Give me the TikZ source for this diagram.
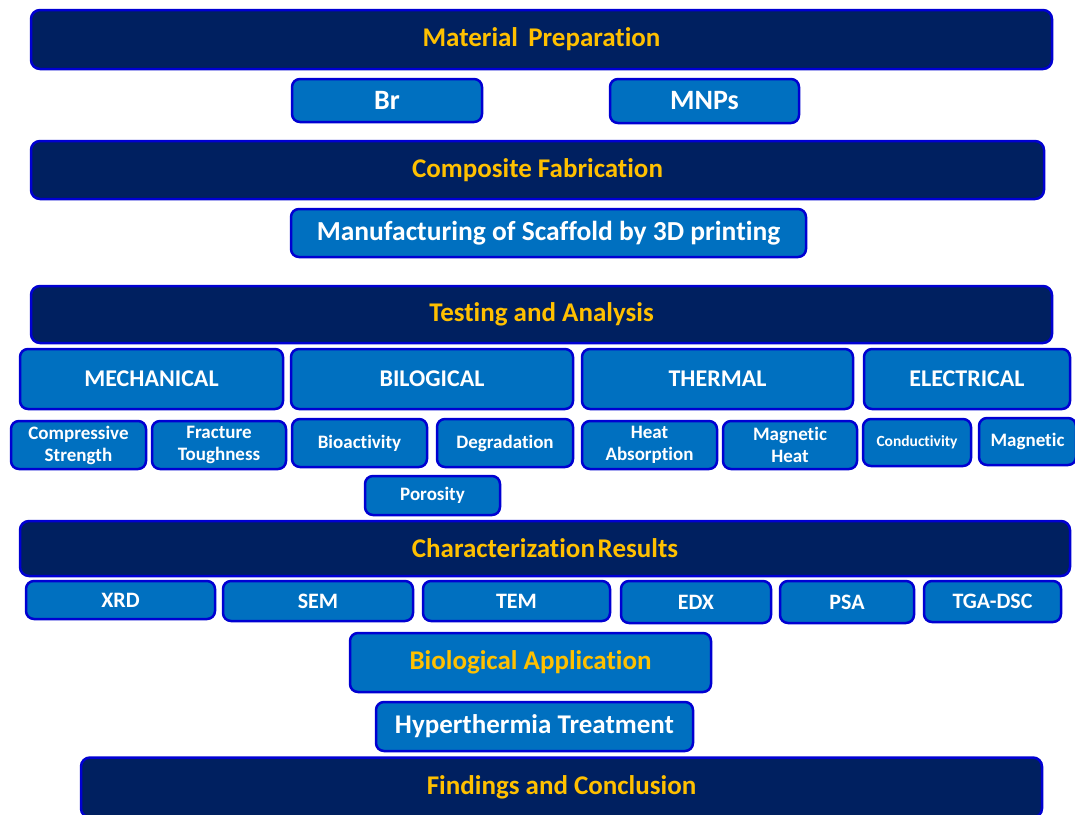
\documentclass[tikz,border=0pt]{standalone}
\usepackage{fontspec}
\setmainfont{Carlito}[Ligatures=NoCommon]
\definecolor{N1}{RGB}{0,32,96}
\definecolor{B1}{RGB}{0,112,192}
\definecolor{E1}{RGB}{0,0,210}
\definecolor{G1}{RGB}{255,192,0}
\tikzstyle{stage}=[draw=E1, line width=2.5pt, fill=N1, rounded corners=9pt, text=G1, inner sep=0, font=\bfseries\fontsize{27}{29}\selectfont]
\tikzstyle{item}=[draw=E1, line width=2.5pt, fill=B1, rounded corners=8pt, text=white, inner sep=0, align=center, font=\bfseries\fontsize{24}{26}\selectfont]
\tikzstyle{sub}=[item, font=\bfseries\fontsize{19}{22}\selectfont]
\tikzstyle{tool}=[item, font=\bfseries\fontsize{22}{24}\selectfont]

\begin{document}
\begin{tikzpicture}[x=1pt,y=-1pt]
    \useasboundingbox (0,0) rectangle (1075,814);
    % material preparation
    \node[stage, minimum width=1021, minimum height=59] (mat) at (541.5,39.5) {Material\hspace{0.15em} Preparation};
    \node[item, minimum width=190, minimum height=43, font=\bfseries\fontsize{28}{30}\selectfont] (br) at (387,100.5) {Br};
    \node[item, minimum width=189, minimum height=44, font=\bfseries\fontsize{28}{30}\selectfont] (mnp) at (704.5,101) {MNPs};
    % fabrication
    \node[stage, minimum width=1013, minimum height=58] (comp) at (537.5,170) {Composite Fabrication};
    \node[item, minimum width=515, minimum height=48, font=\bfseries\fontsize{27.5}{29}\selectfont] (manu) at (548.5,233) {Manufacturing of Scaffold by 3D printing};
    % tests
    \node[stage, minimum width=1021, minimum height=57] (test) at (541.5,314.5) {Testing and Analysis};
    \node[item, minimum width=263, minimum height=60] (mech) at (151.5,379) {MECHANICAL};
    \node[item, minimum width=282, minimum height=60] (bio) at (432,379) {BILOGICAL};
    \node[item, minimum width=271, minimum height=60] (ther) at (717.5,379) {THERMAL};
    \node[item, minimum width=206, minimum height=60] (elec) at (967,379) {ELECTRICAL};
    \node[sub, minimum width=135, minimum height=48] (cs) at (78.5,445) {Compressive\\Strength};
    \node[sub, minimum width=134, minimum height=48] (ft) at (219,445) {Fracture\\Toughness};
    \node[sub, minimum width=135, minimum height=48] (bioa) at (359.5,443) {Bioactivity};
    \node[sub, minimum width=136, minimum height=48] (deg) at (505,443) {Degradation};
    \node[sub, minimum width=135, minimum height=48] (heat) at (649.5,445) {Heat\\Absorption};
    \node[sub, minimum width=134, minimum height=48] (mh) at (790,445) {Magnetic\\Heat};
    \node[sub, minimum width=108, minimum height=47, font=\bfseries\fontsize{15.5}{17}\selectfont] (cond) at (917,442.5) {Conductivity};
    \node[sub, minimum width=97, minimum height=47] (mag) at (1027.5,441.5) {Magnetic};
    \node[sub, minimum width=135, minimum height=39] (por) at (432.5,495.5) {Porosity};
    % characterization
    \node[stage, minimum width=1050, minimum height=55] (char) at (545,548.5) {Characterization\hspace{0.1em}Results};
    \node[tool, minimum width=189, minimum height=38] (xrd) at (120.5,600) {XRD};
    \node[tool, minimum width=190, minimum height=40] (sem) at (318,601) {SEM};
    \node[tool, minimum width=187, minimum height=40] (tem) at (516.5,601) {TEM};
    \node[tool, minimum width=150, minimum height=42] (edx) at (696,602) {EDX};
    \node[tool, minimum width=134, minimum height=42] (psa) at (847,602) {PSA};
    \node[tool, minimum width=137, minimum height=41] (tga) at (992.5,601.5) {TGA-DSC};
    % application and conclusion
    \node[item, minimum width=361, minimum height=59, text=G1, font=\bfseries\fontsize{27}{29}\selectfont] (bapp) at (530.5,662.5) {Biological Application};
    \node[item, minimum width=317, minimum height=49, font=\bfseries\fontsize{27}{29}\selectfont] (hyp) at (534.5,726.5) {Hyperthermia Treatment};
    \node[stage, minimum width=961, minimum height=60] (find) at (561.5,787.5) {Findings and Conclusion};
\end{tikzpicture}
\end{document}
